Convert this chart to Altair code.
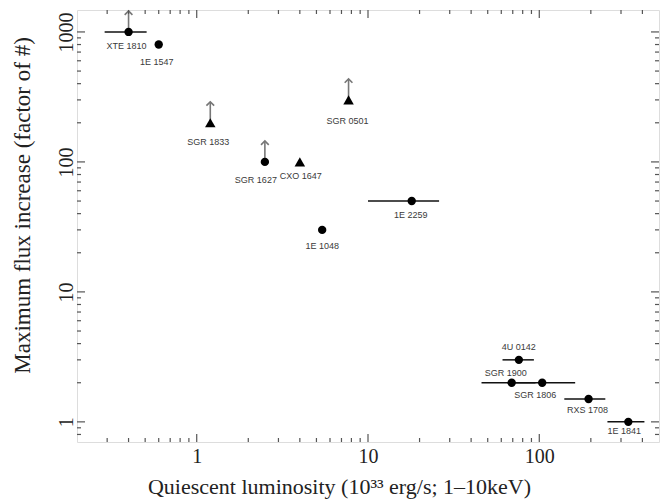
import altair as alt
import pandas as pd

# ---- data ----
names = ["XTE 1810", "1E 1547", "SGR 1833", "SGR 1627", "CXO 1647", "SGR 0501",
         "1E 1048", "1E 2259", "4U 0142", "SGR 1900", "SGR 1806", "RXS 1708", "1E 1841"]
luminosity = [0.4, 0.6, 1.2, 2.5, 4.0, 7.7, 5.4, 18, 76, 69, 104, 194, 331]
flux_increase = [1000, 800, 200, 100, 100, 300, 30, 50, 3, 2, 2, 1.5, 1]
marker = ["circle", "circle", "triangle", "circle", "triangle", "triangle",
          "circle", "circle", "circle", "circle", "circle", "circle", "circle"]
lower_limit = [True, False, True, True, False, True,
               False, False, False, False, False, False, False]
lum_low = [0.29, None, None, None, None, None, None, 10, 61, 46, 65, 140, 250]
lum_high = [0.51, None, None, None, None, None, None, 26, 93, 95, 162, 243, 411]

# axis ranges and tick values
x_range = [0.2, 500]
y_range = [0.7, 1475]
x_major = [1, 10, 100]
x_minor = [0.3, 0.4, 0.5, 0.6, 0.7, 0.8, 0.9, 2, 3, 4, 5, 6, 7, 8, 9,
           20, 30, 40, 50, 60, 70, 80, 90, 200, 300, 400]
y_major = [1, 10, 100, 1000]
y_minor = [0.8, 0.9, 2, 3, 4, 5, 6, 7, 8, 9, 20, 30, 40, 50, 60, 70, 80, 90,
           200, 300, 400, 500, 600, 700, 800, 900]

# label placement (style: pixel offsets of each label from its marker)
label_dx = [-2, -2, -2, -9, 1, -1, 0, -1, 0, -6, -7, -1, -4]
label_dy = [14, 17, 19, 18, 14, 21, 16, 14, -13, -10, 12, 11, 9]

df = pd.DataFrame({
    "name": names, "lum": luminosity, "flux": flux_increase, "marker": marker,
    "limit": lower_limit, "lo": lum_low, "hi": lum_high,
})

W, H = 582, 432
SERIF = "Liberation Serif"
TICK_COLOR = "#555555"
MAJOR, MINOR = 8, 4


def xs():
    return alt.Scale(type="log", domain=x_range, nice=False)


def ys():
    return alt.Scale(type="log", domain=y_range, nice=False)


def x_axis():
    return alt.Axis(
        orient="bottom", values=x_major, format="d", domain=False, grid=False, ticks=False,
        tickSize=0, labelFont=SERIF, labelFontSize=20, labelColor="#222222", labelPadding=4,
        labelFlush=False,
        title="Quiescent luminosity (10³³ erg/s; 1–10keV)", titleFont=SERIF, titleFontSize=22,
        titleFontWeight="normal", titleColor="#222222", titleX=262, titleY=51,
        titleAlign="center", titleBaseline="alphabetic",
    )


def y_axis():
    return alt.Axis(
        orient="left", values=y_major, format="d", domain=False, grid=False, ticks=False,
        tickSize=0, labelFont=SERIF, labelFontSize=20, labelColor="#222222", labelPadding=5,
        labelAngle=270, labelAlign="center", labelBaseline="alphabetic", labelFlush=False,
        title="Maximum flux increase (factor of #)", titleFont=SERIF, titleFontSize=23,
        titleFontWeight="normal", titleColor="#222222", titleX=-55, titleY=195,
        titleAngle=270, titleAlign="center", titleBaseline="middle",
    )


def X(field):
    return alt.X(field, scale=xs(), axis=x_axis())


def Y(field):
    return alt.Y(field, scale=ys(), axis=y_axis())


base = alt.Chart(df)

errbars = base.transform_filter("isValid(datum.lo)").mark_rule(
    color="#111111", strokeWidth=1.5
).encode(x=X("lo:Q"), x2="hi:Q", y=Y("flux:Q"))

circles = base.transform_filter("datum.marker == 'circle'").mark_point(
    shape="circle", filled=True, color="#000000", size=70, opacity=1
).encode(x=X("lum:Q"), y=Y("flux:Q"))

triangles = base.transform_filter("datum.marker == 'triangle'").mark_point(
    shape="triangle-up", filled=True, color="#000000", size=110, opacity=1
).encode(x=X("lum:Q"), y=Y("flux:Q"))

arrows = base.transform_filter("datum.limit").transform_calculate(
    tip="datum.flux * 1.45"
).mark_rule(color="#777777", strokeWidth=1.6).encode(
    x=X("lum:Q"), y=Y("flux:Q"), y2="tip:Q"
)

heads = base.transform_filter("datum.limit").transform_calculate(
    tip="datum.flux * 1.45"
).mark_point(
    shape="M-1,1L0,0L1,1", filled=False, stroke="#777777", strokeWidth=1.6, size=60, opacity=1
).encode(x=X("lum:Q"), y=Y("tip:Q"))

# one text layer per label so each can carry its own pixel offset
label_layers = []
for nm, ddx, ddy in zip(names, label_dx, label_dy):
    label_layers.append(
        base.transform_filter(alt.datum.name == nm).mark_text(
            font="Liberation Sans", fontSize=9, color="#3a3a3a",
            align="center", baseline="middle", dx=ddx, dy=ddy,
        ).encode(x=X("lum:Q"), y=Y("flux:Q"), text="name:N")
    )


# inward frame ticks: the tick value lists expanded from the main data source
def tick_source(values, edge):
    arr = "[" + ",".join(str(v) for v in values) + "]"
    return base.transform_aggregate(n="count()").transform_calculate(
        v=arr, edge=str(edge)
    ).transform_flatten(["v"])


def x_ticks(values, length):
    out = []
    for edge, shift in ((y_range[0], -length / 2), (y_range[1], length / 2)):
        out.append(tick_source(values, edge).mark_tick(
            orient="vertical", size=length, thickness=1.2, color=TICK_COLOR,
            opacity=1, yOffset=shift,
        ).encode(x=X("v:Q"), y=Y("edge:Q")))
    return out


def y_ticks(values, length):
    out = []
    for edge, shift in ((x_range[0], length / 2), (x_range[1], -length / 2)):
        out.append(tick_source(values, edge).mark_tick(
            orient="horizontal", size=length, thickness=1.2, color=TICK_COLOR,
            opacity=1, xOffset=shift,
        ).encode(y=Y("v:Q"), x=X("edge:Q")))
    return out


tick_layers = (x_ticks(x_major, MAJOR) + x_ticks(x_minor, MINOR)
               + y_ticks(y_major, MAJOR) + y_ticks(y_minor, MINOR))

chart = alt.layer(
    errbars, arrows, heads, circles, triangles, *tick_layers, *label_layers
).properties(
    width=W, height=H,
    autosize=alt.AutoSizeParams(type="none"),
    padding={"left": 77, "top": 10, "right": 4, "bottom": 59},
).configure_view(
    stroke="#444444", strokeWidth=1.5
).configure(background="white")

chart.save("out.html", embed_options={"renderer": "svg", "actions": False})
